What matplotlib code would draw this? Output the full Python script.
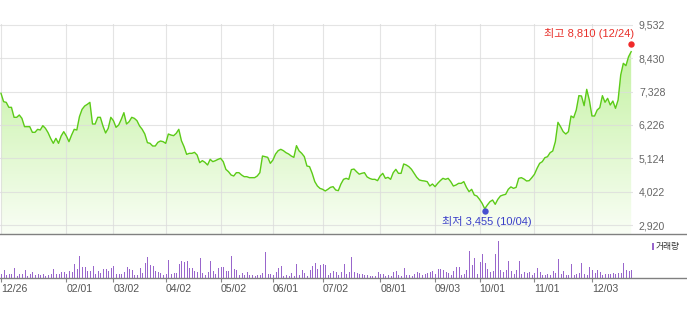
import matplotlib
matplotlib.use('Agg')
import matplotlib.pyplot as plt
import numpy as np
from matplotlib.colors import LinearSegmentedColormap
from matplotlib.lines import Line2D
from matplotlib.patches import Rectangle
import matplotlib.transforms as mtransforms

plt.rcParams['font.family'] = ['Liberation Sans', 'Noto Sans CJK KR', 'DejaVu Sans']

# ---------------- data ----------------
close = [
    7273, 6997, 6975, 6810, 6810, 6480, 6480, 6557, 6446, 6171,
    6171, 6171, 5984, 5984, 6083, 6061, 6204, 6116, 5973, 5780,
    5620, 5785, 5620, 5862, 6006, 5862, 5675, 5895, 6083, 6061,
    6502, 6744, 6854, 6909, 6975, 6259, 6259, 6480, 6480, 6193,
    5962, 6116, 6480, 6369, 6149, 6226, 6413, 6634, 6259, 6336,
    6480, 6446, 6369, 6193, 6083, 5928, 5642, 5620, 5532, 5532,
    5653, 5697, 5675, 5620, 5928, 5895, 5873, 5950, 6083, 5708,
    5510, 5256, 5289, 5289, 5322, 5234, 4981, 5047, 4992, 4904,
    5091, 5014, 5047, 5091, 5124, 5014, 4760, 4683, 4573, 4540,
    4650, 4650, 4573, 4518, 4518, 4485, 4485, 4485, 4540, 4650,
    5201, 5179, 5157, 4959, 5069, 5267, 5378, 5422, 5378, 5311,
    5267, 5201, 5157, 5543, 5370, 5290, 5180, 4870, 4850, 4630,
    4355, 4210, 4130, 4100, 4045, 4100, 4165, 4187, 4077, 4055,
    4275, 4430, 4463, 4430, 4750, 4770, 4680, 4600, 4630, 4650,
    4510, 4460, 4430, 4430, 4386, 4540, 4628, 4463, 4496, 4430,
    4650, 4760, 4628, 4628, 4937, 4904, 4848, 4760, 4628, 4496,
    4408, 4386, 4375, 4353, 4209, 4275, 4187, 4297, 4386, 4463,
    4430, 4463, 4353, 4209, 4242, 4297, 4297, 4353, 4165, 4022,
    4099, 3912, 3879, 3768, 3636, 3455, 3581, 3691, 3746, 3603,
    3768, 3879, 3912, 3934, 4100, 4180, 4132, 4165, 4463, 4485,
    4441, 4375, 4386, 4485, 4595, 4793, 4959, 5014, 5146, 5179,
    5311, 5366, 5675, 6314, 6171, 6006, 5928, 6006, 6524, 6468,
    6722, 7196, 7185, 6865, 7405, 7052, 6524, 6524, 6722, 6799,
    7196, 6977, 7108, 6887, 7019, 6777, 7052, 7879, 8265, 8188,
    8485, 8650,
]

volume = [
    10, 22, 7, 10, 10, 30, 5, 10, 10, 22,
    5, 10, 16, 7, 10, 7, 10, 5, 7, 10,
    25, 12, 10, 16, 16, 10, 19, 16, 40, 25,
    64, 31, 31, 19, 19, 34, 12, 19, 14, 25,
    25, 19, 28, 34, 12, 10, 12, 16, 31, 25,
    22, 7, 7, 28, 14, 43, 61, 37, 34, 19,
    16, 14, 7, 11, 52, 11, 14, 13, 40, 49,
    47, 49, 28, 28, 19, 16, 58, 13, 9, 16,
    49, 19, 10, 28, 31, 31, 19, 19, 64, 25,
    22, 7, 13, 7, 16, 7, 7, 5, 7, 7,
    13, 76, 10, 10, 7, 16, 28, 34, 5, 7,
    5, 13, 5, 40, 7, 22, 14, 5, 22, 34,
    43, 25, 37, 40, 38, 7, 13, 20, 16, 7,
    16, 40, 12, 16, 61, 16, 13, 10, 10, 8,
    7, 5, 5, 4, 16, 10, 10, 5, 7, 4,
    16, 19, 7, 5, 28, 7, 7, 5, 10, 16,
    13, 7, 10, 13, 16, 19, 10, 25, 25, 22,
    16, 13, 7, 19, 31, 31, 7, 10, 22, 79,
    37, 58, 10, 46, 70, 43, 25, 16, 19, 70,
    109, 22, 16, 22, 49, 19, 10, 22, 49, 10,
    16, 13, 16, 7, 13, 28, 16, 7, 7, 10,
    7, 19, 13, 55, 10, 19, 7, 7, 40, 7,
    10, 13, 43, 10, 7, 31, 22, 13, 22, 16,
    7, 10, 10, 10, 13, 10, 13, 13, 43, 22,
    19, 22,
]

tick_idx = [0, 25, 43, 63, 84, 104, 123, 145, 166, 183, 204, 226]
tick_labels = ['12/26', '02/01', '03/02', '04/02', '05/02', '06/01',
               '07/02', '08/01', '09/03', '10/01', '11/01', '12/03']
y_ticks = [2920, 4022, 5124, 6226, 7328, 8430, 9532]

hi_idx, hi_val, hi_date = 241, 8810, '12/24'
lo_idx, lo_val, lo_date = 185, 3455, '10/04'
vol_label = '거래량'

# ---------------- layout ----------------
W, H = 687, 309
fig = plt.figure(figsize=(W / 100, H / 100), dpi=100)


def fy(py):
    return 1 - py / H


PLOT_R = 633
ax = fig.add_axes([0, fy(234), PLOT_R / W, (234 - 24) / H])
axv = fig.add_axes([0, fy(277.5), PLOT_R / W, (277.5 - 236) / H])

x = np.arange(len(close))
xlim = (-0.38, 241.7)
ylo, yhi = 2622.5, 9565
ax.set_xlim(xlim)
ax.set_ylim(ylo, yhi)

# gradient fill under the line
cmap = LinearSegmentedColormap.from_list('g', ['#f9fef5', '#bdf097'])
grad = np.linspace(0, 1, 256).reshape(-1, 1)
im = ax.imshow(grad, extent=[xlim[0], xlim[1], ylo, yhi], origin='lower',
               aspect='auto', cmap=cmap, zorder=1, interpolation='bilinear')
poly = ax.fill_between(x, close, ylo, facecolor='none', edgecolor='none')
im.set_clip_path(poly.get_paths()[0], transform=ax.transData)

ax.plot(x, close, color='#5ccb18', lw=1.0, zorder=3, solid_joinstyle='round')

# grid / ticks
ax.set_yticks(y_ticks)
ax.set_yticklabels([f'{v:,}' for v in y_ticks])
ax.set_xticks(tick_idx)
ax.grid(True, color='#dcdcdc', lw=0.8, alpha=0.75)
ax.set_axisbelow(False)
ax.yaxis.tick_right()
ax.tick_params(axis='y', length=0, pad=4.3, labelsize=7.6, labelcolor='#666666')
ax.tick_params(axis='x', length=0, labelbottom=False)
for s in ax.spines.values():
    s.set_visible(False)

# high / low markers
off_hi = mtransforms.offset_copy(ax.transData, fig=fig, x=0, y=2.5, units='dots')
off_lo = mtransforms.offset_copy(ax.transData, fig=fig, x=0, y=-2.2, units='dots')
ax.plot([hi_idx], [hi_val], 'o', color='#f02a2a', ms=4.6, mec='none',
        transform=off_hi, zorder=5, clip_on=False)
ax.plot([lo_idx], [lo_val], 'o', color='#4750d0', ms=4.6, mec='none',
        transform=off_lo, zorder=5, clip_on=False)
ax.annotate(f'최고 {hi_val:,} ({hi_date})', xy=(hi_idx, hi_val),
            xytext=(2.4, 9.7), textcoords='offset points', ha='right', va='center',
            color='#e8302a', fontsize=8.0, annotation_clip=False, zorder=6)
ax.annotate(f'최저 {lo_val:,} ({lo_date})', xy=(lo_idx, lo_val),
            xytext=(1.4, -9.3), textcoords='offset points', ha='center', va='center',
            color='#3a3fc8', fontsize=8.0, annotation_clip=False, zorder=6)

# volume panel
axv.set_xlim(xlim)
axv.set_ylim(0, max(volume) * 1.143)
axv.vlines(x, 0, volume, color='#9966cc', lw=0.7, antialiased=False)
axv.set_xticks(tick_idx)
axv.set_xticklabels(tick_labels)
for lab in axv.get_xticklabels():
    lab.set_horizontalalignment('left')
axv.set_yticks([])
axv.tick_params(axis='x', length=3, width=0.8, color='#888888', pad=1.6,
                labelsize=7.6, labelcolor='#555555', direction='out')
for s in axv.spines.values():
    s.set_visible(False)

# full-width horizontal rules
for py in (234, 277.5):
    fig.add_artist(Line2D([0, 1], [fy(py), fy(py)], transform=fig.transFigure,
                          color='#808080', lw=1.0))

# volume legend
fig.add_artist(Rectangle((651.7 / W, fy(250)), 2.5 / W, 7 / H,
                         transform=fig.transFigure, color='#9966cc', lw=0))
fig.text(656 / W, fy(246.7), vol_label, ha='left', va='center',
         fontsize=6.3, color='#333333')

fig.savefig('out.png', dpi=100)
